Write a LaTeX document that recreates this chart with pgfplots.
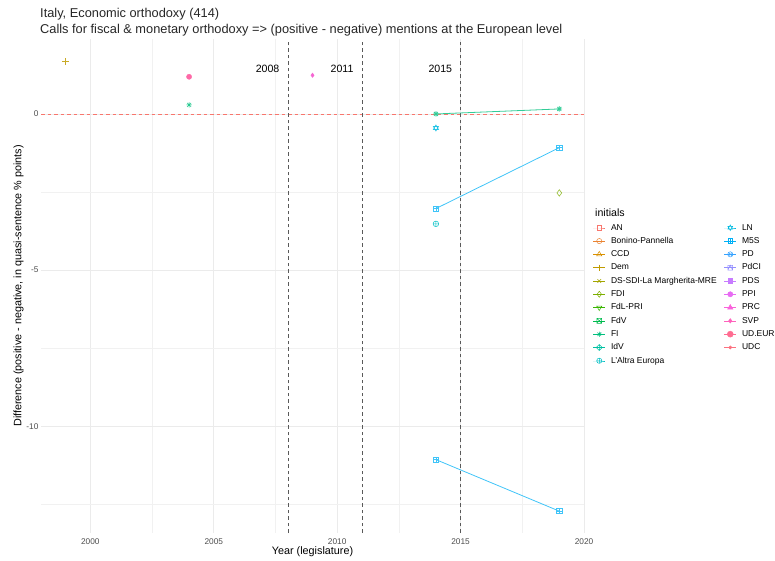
\documentclass[border=0pt]{standalone}
\usepackage{pgfplots}
\pgfplotsset{compat=1.18}
\usepackage{fontspec}
\setmainfont{Liberation Sans}
\definecolor{cAN}{HTML}{F8766D}
\definecolor{cBon}{HTML}{EA8331}
\definecolor{cCCD}{HTML}{D89000}
\definecolor{cDem}{HTML}{C09B00}
\definecolor{cDS}{HTML}{A3A500}
\definecolor{cFDI}{HTML}{7CAE00}
\definecolor{cFdL}{HTML}{39B600}
\definecolor{cFdV}{HTML}{00BB4E}
\definecolor{cFI}{HTML}{00BF7D}
\definecolor{cIdV}{HTML}{00C1A3}
\definecolor{cAE}{HTML}{00BFC4}
\definecolor{cLN}{HTML}{00BAE0}
\definecolor{cM5S}{HTML}{00B0F6}
\definecolor{cPD}{HTML}{35A2FF}
\definecolor{cPdCI}{HTML}{9590FF}
\definecolor{cPDS}{HTML}{C77CFF}
\definecolor{cPPI}{HTML}{E76BF3}
\definecolor{cPRC}{HTML}{FA62DB}
\definecolor{cSVP}{HTML}{FF62BC}
\definecolor{cUDE}{HTML}{FF6C91}
\definecolor{cUDC}{HTML}{FC717F}
\definecolor{gridc}{HTML}{EBEBEB}
\definecolor{tickc}{HTML}{4D4D4D}
\pgfdeclareplotmark{squarex}{%
  \pgfpathrectangle{\pgfqpoint{-\pgfplotmarksize}{-\pgfplotmarksize}}{\pgfqpoint{2\pgfplotmarksize}{2\pgfplotmarksize}}%
  \pgfpathmoveto{\pgfqpoint{-\pgfplotmarksize}{-\pgfplotmarksize}}\pgfpathlineto{\pgfqpoint{\pgfplotmarksize}{\pgfplotmarksize}}%
  \pgfpathmoveto{\pgfqpoint{-\pgfplotmarksize}{\pgfplotmarksize}}\pgfpathlineto{\pgfqpoint{\pgfplotmarksize}{-\pgfplotmarksize}}%
  \pgfusepathqstroke}
\pgfdeclareplotmark{squareplus}{%
  \pgfpathrectangle{\pgfqpoint{-\pgfplotmarksize}{-\pgfplotmarksize}}{\pgfqpoint{2\pgfplotmarksize}{2\pgfplotmarksize}}%
  \pgfpathmoveto{\pgfqpoint{0pt}{-\pgfplotmarksize}}\pgfpathlineto{\pgfqpoint{0pt}{\pgfplotmarksize}}%
  \pgfpathmoveto{\pgfqpoint{-\pgfplotmarksize}{0pt}}\pgfpathlineto{\pgfqpoint{\pgfplotmarksize}{0pt}}%
  \pgfusepathqstroke}
\pgfdeclareplotmark{diamondplus}{%
  \pgfpathmoveto{\pgfqpoint{0pt}{\pgfplotmarksize}}\pgfpathlineto{\pgfqpoint{\pgfplotmarksize}{0pt}}%
  \pgfpathlineto{\pgfqpoint{0pt}{-\pgfplotmarksize}}\pgfpathlineto{\pgfqpoint{-\pgfplotmarksize}{0pt}}\pgfpathclose
  \pgfpathmoveto{\pgfqpoint{0pt}{-\pgfplotmarksize}}\pgfpathlineto{\pgfqpoint{0pt}{\pgfplotmarksize}}%
  \pgfpathmoveto{\pgfqpoint{-\pgfplotmarksize}{0pt}}\pgfpathlineto{\pgfqpoint{\pgfplotmarksize}{0pt}}%
  \pgfusepathqstroke}
\pgfdeclareplotmark{squaretri}{%
  \pgfpathrectangle{\pgfqpoint{-\pgfplotmarksize}{-\pgfplotmarksize}}{\pgfqpoint{2\pgfplotmarksize}{2\pgfplotmarksize}}%
  \pgfpathmoveto{\pgfqpoint{-\pgfplotmarksize}{-\pgfplotmarksize}}\pgfpathlineto{\pgfqpoint{0pt}{\pgfplotmarksize}}%
  \pgfpathlineto{\pgfqpoint{\pgfplotmarksize}{-\pgfplotmarksize}}%
  \pgfusepathqstroke}
\pgfdeclareplotmark{hexagram}{%
  \pgfpathmoveto{\pgfqpoint{0pt}{\pgfplotmarksize}}%
  \pgfpathlineto{\pgfqpointpolar{210}{\pgfplotmarksize}}%
  \pgfpathlineto{\pgfqpointpolar{330}{\pgfplotmarksize}}\pgfpathclose
  \pgfpathmoveto{\pgfqpoint{0pt}{-\pgfplotmarksize}}%
  \pgfpathlineto{\pgfqpointpolar{30}{\pgfplotmarksize}}%
  \pgfpathlineto{\pgfqpointpolar{150}{\pgfplotmarksize}}\pgfpathclose
  \pgfusepathqstroke}
\pgfdeclareplotmark{asterx}{%
  \pgfpathmoveto{\pgfqpoint{0pt}{-\pgfplotmarksize}}\pgfpathlineto{\pgfqpoint{0pt}{\pgfplotmarksize}}%
  \pgfpathmoveto{\pgfqpoint{-\pgfplotmarksize}{0pt}}\pgfpathlineto{\pgfqpoint{\pgfplotmarksize}{0pt}}%
  \pgfpathmoveto{\pgfqpoint{-0.707\pgfplotmarksize}{-0.707\pgfplotmarksize}}\pgfpathlineto{\pgfqpoint{0.707\pgfplotmarksize}{0.707\pgfplotmarksize}}%
  \pgfpathmoveto{\pgfqpoint{-0.707\pgfplotmarksize}{0.707\pgfplotmarksize}}\pgfpathlineto{\pgfqpoint{0.707\pgfplotmarksize}{-0.707\pgfplotmarksize}}%
  \pgfusepathqstroke}
\newcommand\lc[1]{\makebox[112.5bp][l]{#1}}
\begin{document}
\begin{tikzpicture}
\useasboundingbox (0,0) rectangle (775bp,561bp);
\node[anchor=base west, inner sep=0pt, font=\fontsize{12.8bp}{15bp}\selectfont, text=black!85] at (40bp,543bp) {Italy, Economic orthodoxy (414)};
\node[anchor=base west, inner sep=0pt, font=\fontsize{12.8bp}{15bp}\selectfont, text=black!85] at (40bp,527bp) {Calls for fiscal \& monetary orthodoxy => (positive - negative) mentions at the European level};
\node[anchor=base west, inner sep=0pt, font=\fontsize{10.6bp}{12bp}\selectfont] at (595bp,344bp) {initials};
\begin{axis}[
  at={(41bp,28bp)}, anchor=south west,
  width=543bp, height=494bp, scale only axis,
  xmin=1998, xmax=2020, ymin=-13.42, ymax=2.4,
  axis line style={draw=none},
  tick style={draw=none},
  xtick={2000,2005,2010,2015,2020},
  xticklabels={2000,2005,2010,2015,2020},
  minor xtick={2002.5,2007.5,2012.5,2017.5},
  ytick={-10,-5,0},
  yticklabels={-10,-5,0},
  minor ytick={-12.5,-7.5,-2.5},
  grid=both,
  major grid style={color=gridc, line width=0.6bp},
  minor grid style={color=gridc!70, line width=0.35bp},
  ticklabel style={font=\fontsize{8.3bp}{9bp}\selectfont, text=tickc},
  xticklabel style={yshift=-2bp},
  yticklabel style={xshift=1bp},
  xlabel={Year (legislature)},
  ylabel={Difference (positive - negative, in quasi-sentence \% points)},
  label style={font=\fontsize{10.8bp}{12bp}\selectfont},
  xlabel style={yshift=5bp},
  ylabel style={yshift=-4bp},
  clip=false,
  legend columns=2,
  legend cell align=left,
  legend style={at={(1.0166,0.6265)}, anchor=north west, draw=none, fill=none,
    inner sep=0pt, outer sep=0pt, row sep=4.8bp,
    font=\fontsize{8.5bp}{9bp}\selectfont,
    nodes={inner sep=0.5bp, text height=6bp, text depth=1.5bp},
    /tikz/every odd column/.append style={column sep=5bp},
    /tikz/every even column/.append style={column sep=0bp}},
  legend image code/.code={\draw[mark repeat=2,mark phase=2,line width=0.5bp] plot coordinates {(0bp,0bp) (6bp,0bp) (12bp,0bp)};},
]
% reference lines
\addplot[forget plot, color=cAN, line width=0.5bp, dash pattern=on 3.5bp off 3bp] coordinates {(1998,0) (2020,0)};
\addplot[forget plot, color=black!65, line width=0.55bp, dash pattern=on 3.5bp off 3bp] coordinates {(2008,-13.42) (2008,2.4)};
\addplot[forget plot, color=black!65, line width=0.55bp, dash pattern=on 3.5bp off 3bp] coordinates {(2011,-13.42) (2011,2.4)};
\addplot[forget plot, color=black!65, line width=0.55bp, dash pattern=on 3.5bp off 3bp] coordinates {(2015,-13.42) (2015,2.4)};
\node[anchor=east, font=\fontsize{10.6bp}{12bp}\selectfont] at (axis cs:2007.8,1.45) {2008};
\node[anchor=east, font=\fontsize{10.6bp}{12bp}\selectfont] at (axis cs:2010.8,1.45) {2011};
\node[anchor=east, font=\fontsize{10.6bp}{12bp}\selectfont] at (axis cs:2014.8,1.45) {2015};
% data
\addplot[forget plot, only marks, color=cDem!85!white, mark=+, mark size=3.5bp, line width=0.7bp] coordinates {(1999,1.68)};
\addplot[forget plot, only marks, color=cFI!85!white, mark=asterx, mark size=2.8bp, line width=0.6bp] coordinates {(2004,0.29)};
\addplot[forget plot, color=cFI!80!white, mark=asterx, mark size=2.8bp, line width=0.8bp] coordinates {(2014,0) (2019,0.16)};
\addplot[forget plot, only marks, color=cUDE!70!cPRC, mark=*, mark size=2.6bp] coordinates {(2004,1.19)};
\addplot[forget plot, only marks, color=cSVP!60!cPPI, mark=diamond*, mark size=2.2bp] coordinates {(2009,1.24)};
\addplot[forget plot, only marks, color=cLN!85!white, mark=hexagram, mark size=3bp, line width=0.6bp] coordinates {(2014,-0.45)};
\addplot[forget plot, only marks, color=cAE!85!white, mark=oplus, mark size=2.8bp, line width=0.6bp] coordinates {(2014,-3.52)};
\addplot[forget plot, only marks, color=cFDI!80!white, mark=diamond, mark size=3.2bp, line width=0.6bp] coordinates {(2019,-2.53)};
\addplot[forget plot, color=cM5S!75!white, mark=squareplus, mark size=2.6bp, line width=0.8bp] coordinates {(2014,-3.03) (2019,-1.08)};
\addplot[forget plot, color=cM5S!75!white, mark=squareplus, mark size=2.6bp, line width=0.8bp] coordinates {(2014,-11.07) (2019,-12.72)};
% legend (column-major order reproduced row by row)
\addlegendimage{color=cAN, mark=square, mark size=2.4bp}\addlegendentry{\lc{AN}}
\addlegendimage{color=cLN, mark=hexagram, mark size=2.8bp}\addlegendentry{LN}
\addlegendimage{color=cBon, mark=o, mark size=2.6bp}\addlegendentry{\lc{Bonino-Pannella}}
\addlegendimage{color=cM5S, mark=squareplus, mark size=2.4bp}\addlegendentry{M5S}
\addlegendimage{color=cCCD, mark=triangle, mark size=3bp}\addlegendentry{\lc{CCD}}
\addlegendimage{color=cPD, mark=otimes, mark size=2.6bp}\addlegendentry{PD}
\addlegendimage{color=cDem, mark=+, mark size=3bp}\addlegendentry{\lc{Dem}}
\addlegendimage{color=cPdCI, mark=squaretri, mark size=2.4bp}\addlegendentry{PdCI}
\addlegendimage{color=cDS, mark=x, mark size=2.6bp}\addlegendentry{\lc{DS-SDI-La Margherita-MRE}}
\addlegendimage{color=cPDS, mark=square*, mark size=2.4bp}\addlegendentry{PDS}
\addlegendimage{color=cFDI, mark=diamond, mark size=3bp}\addlegendentry{\lc{FDI}}
\addlegendimage{color=cPPI, mark=*, mark size=2.6bp}\addlegendentry{PPI}
\addlegendimage{color=cFdL, mark=triangle, mark options={rotate=180}, mark size=3bp}\addlegendentry{\lc{FdL-PRI}}
\addlegendimage{color=cPRC, mark=triangle*, mark size=3bp}\addlegendentry{PRC}
\addlegendimage{color=cFdV, mark=squarex, mark size=2.4bp}\addlegendentry{\lc{FdV}}
\addlegendimage{color=cSVP, mark=diamond*, mark size=2.2bp}\addlegendentry{SVP}
\addlegendimage{color=cFI, mark=asterx, mark size=2.6bp}\addlegendentry{\lc{FI}}
\addlegendimage{color=cUDE, mark=*, mark size=3bp}\addlegendentry{UD.EUR}
\addlegendimage{color=cIdV, mark=diamondplus, mark size=3bp}\addlegendentry{\lc{IdV}}
\addlegendimage{color=cUDC, mark=*, mark size=1.6bp}\addlegendentry{UDC}
\addlegendimage{color=cAE, mark=oplus, mark size=2.6bp}\addlegendentry{\lc{L'Altra Europa}}
\end{axis}
\end{tikzpicture}
\end{document}
